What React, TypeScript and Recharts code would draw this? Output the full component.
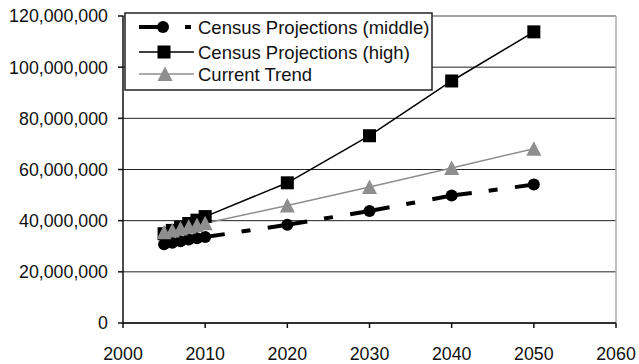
import React from "react";
import {
  LineChart,
  Line,
  XAxis,
  YAxis,
  CartesianGrid,
  ReferenceLine,
} from "recharts";

const years = [2005, 2006, 2007, 2008, 2009, 2010, 2020, 2030, 2040, 2050];
const middle = [
  30_800_000, 31_400_000, 32_000_000, 32_600_000, 33_100_000, 33_600_000,
  38_400_000, 43_800_000, 49_800_000, 54_100_000,
];
const high = [
  34_900_000, 36_200_000, 37_500_000, 38_900_000, 40_200_000, 41_600_000,
  54_800_000, 73_200_000, 94_600_000, 113_800_000,
];
const trend = [
  35_500_000, 36_200_000, 36_900_000, 37_600_000, 38_300_000, 39_000_000,
  45_900_000, 53_200_000, 60_600_000, 68_100_000,
];
const xTicks = [2000, 2010, 2020, 2030, 2040, 2050, 2060];
const yTicks = [0, 20_000_000, 40_000_000, 60_000_000, 80_000_000, 100_000_000, 120_000_000];

const seriesNames = [
  "Census Projections (middle)",
  "Census Projections (high)",
  "Current Trend",
];

const data = years.map((year, i) => ({
  year,
  middle: middle[i],
  high: high[i],
  trend: trend[i],
}));

const GRAY = "#8e8e8e";
const FONT = "'Liberation Sans', Arial, sans-serif";
const TICK_SIZE = 17.8;
const LEGEND_SIZE = 18.5;

const CircleDot = (props: any) => (
  <circle key={`c-${props.index}`} cx={props.cx} cy={props.cy} r={6} fill="#000" />
);

const SquareDot = (props: any) => (
  <rect
    key={`s-${props.index}`}
    x={props.cx - 6.5}
    y={props.cy - 6.5}
    width={13}
    height={13}
    fill="#000"
  />
);

const TriangleDot = (props: any) => {
  const { cx, cy } = props;
  return (
    <polygon
      key={`t-${props.index}`}
      points={`${cx},${cy - 7.5} ${cx + 7.5},${cy + 7} ${cx - 7.5},${cy + 7}`}
      fill={GRAY}
    />
  );
};

// axis tick label with explicit font settings
const TickLabel = (props: any) => {
  const { x, y, payload, textAnchor, orientation } = props;
  const label =
    orientation === "left"
      ? Number(payload.value).toLocaleString("en-US")
      : String(payload.value);
  return (
    <text
      x={x}
      y={y}
      dy={orientation === "left" ? "0.36em" : "0.71em"}
      textAnchor={textAnchor}
      fontSize={TICK_SIZE}
      fontFamily={FONT}
      fill="#111"
    >
      {label}
    </text>
  );
};

function LegendBox() {
  const rows = [27, 52, 74];
  return (
    <svg
      width={310}
      height={80}
      style={{ position: "absolute", left: 124, top: 12 }}
    >
      <rect x={1} y={1} width={307} height={77} fill="#fff" stroke="#222" strokeWidth={1.5} />
      {/* middle */}
      <line x1={15} y1={rows[0] - 12} x2={42} y2={rows[0] - 12} stroke="#000" strokeWidth={4} />
      <circle cx={39} cy={rows[0] - 12} r={6} fill="#000" />
      <line x1={61} y1={rows[0] - 12} x2={67} y2={rows[0] - 12} stroke="#000" strokeWidth={4} />
      {/* high */}
      <line x1={15} y1={rows[1] - 12} x2={70} y2={rows[1] - 12} stroke="#000" strokeWidth={1.5} />
      <rect x={33.5} y={rows[1] - 18.5} width={13} height={13} fill="#000" />
      {/* trend */}
      <line x1={15} y1={rows[2] - 12} x2={70} y2={rows[2] - 12} stroke={GRAY} strokeWidth={1.5} />
      <polygon
        points={`41,${rows[2] - 19.5} 48.5,${rows[2] - 5} 33.5,${rows[2] - 5}`}
        fill={GRAY}
      />
      {seriesNames.map((name, i) => (
        <text
          key={name}
          x={74}
          y={rows[i] - 12}
          dy="0.36em"
          fontSize={LEGEND_SIZE}
          fontFamily={FONT}
          fill="#111"
        >
          {name}
        </text>
      ))}
    </svg>
  );
}

export default function App() {
  return (
    <div
      style={{
        position: "absolute",
        left: 0,
        top: 0,
        width: 639,
        height: 364,
        background: "#fff",
      }}
    >
      <LineChart
        width={639}
        height={364}
        data={data}
        margin={{ top: 16, right: 23, bottom: 0, left: 0 }}
      >
        <CartesianGrid vertical={false} stroke="#222" strokeWidth={1} />
        <XAxis
          dataKey="year"
          type="number"
          domain={[2000, 2060]}
          ticks={xTicks}
          height={41}
          tickSize={5}
          tickMargin={19}
          stroke="#111"
          strokeWidth={1.5}
          tick={<TickLabel orientation="bottom" />}
        />
        <YAxis
          domain={[0, 120_000_000]}
          ticks={yTicks}
          width={123}
          tickSize={5}
          tickMargin={10}
          stroke="#111"
          strokeWidth={1.5}
          tick={<TickLabel orientation="left" />}
        />
        <ReferenceLine y={120_000_000} stroke="#aaa" strokeWidth={1.5} />
        <ReferenceLine x={2060} stroke="#aaa" strokeWidth={1.5} />
        <Line
          dataKey="middle"
          name={seriesNames[0]}
          stroke="#000"
          strokeWidth={4}
          strokeDasharray="40 17 9 17.5"
          strokeDashoffset={62}
          dot={CircleDot}
          activeDot={false}
          isAnimationActive={false}
        />
        <Line
          dataKey="high"
          name={seriesNames[1]}
          stroke="#000"
          strokeWidth={1.5}
          dot={SquareDot}
          activeDot={false}
          isAnimationActive={false}
        />
        <Line
          dataKey="trend"
          name={seriesNames[2]}
          stroke={GRAY}
          strokeWidth={1.5}
          dot={TriangleDot}
          activeDot={false}
          isAnimationActive={false}
        />
      </LineChart>
      <LegendBox />
    </div>
  );
}
